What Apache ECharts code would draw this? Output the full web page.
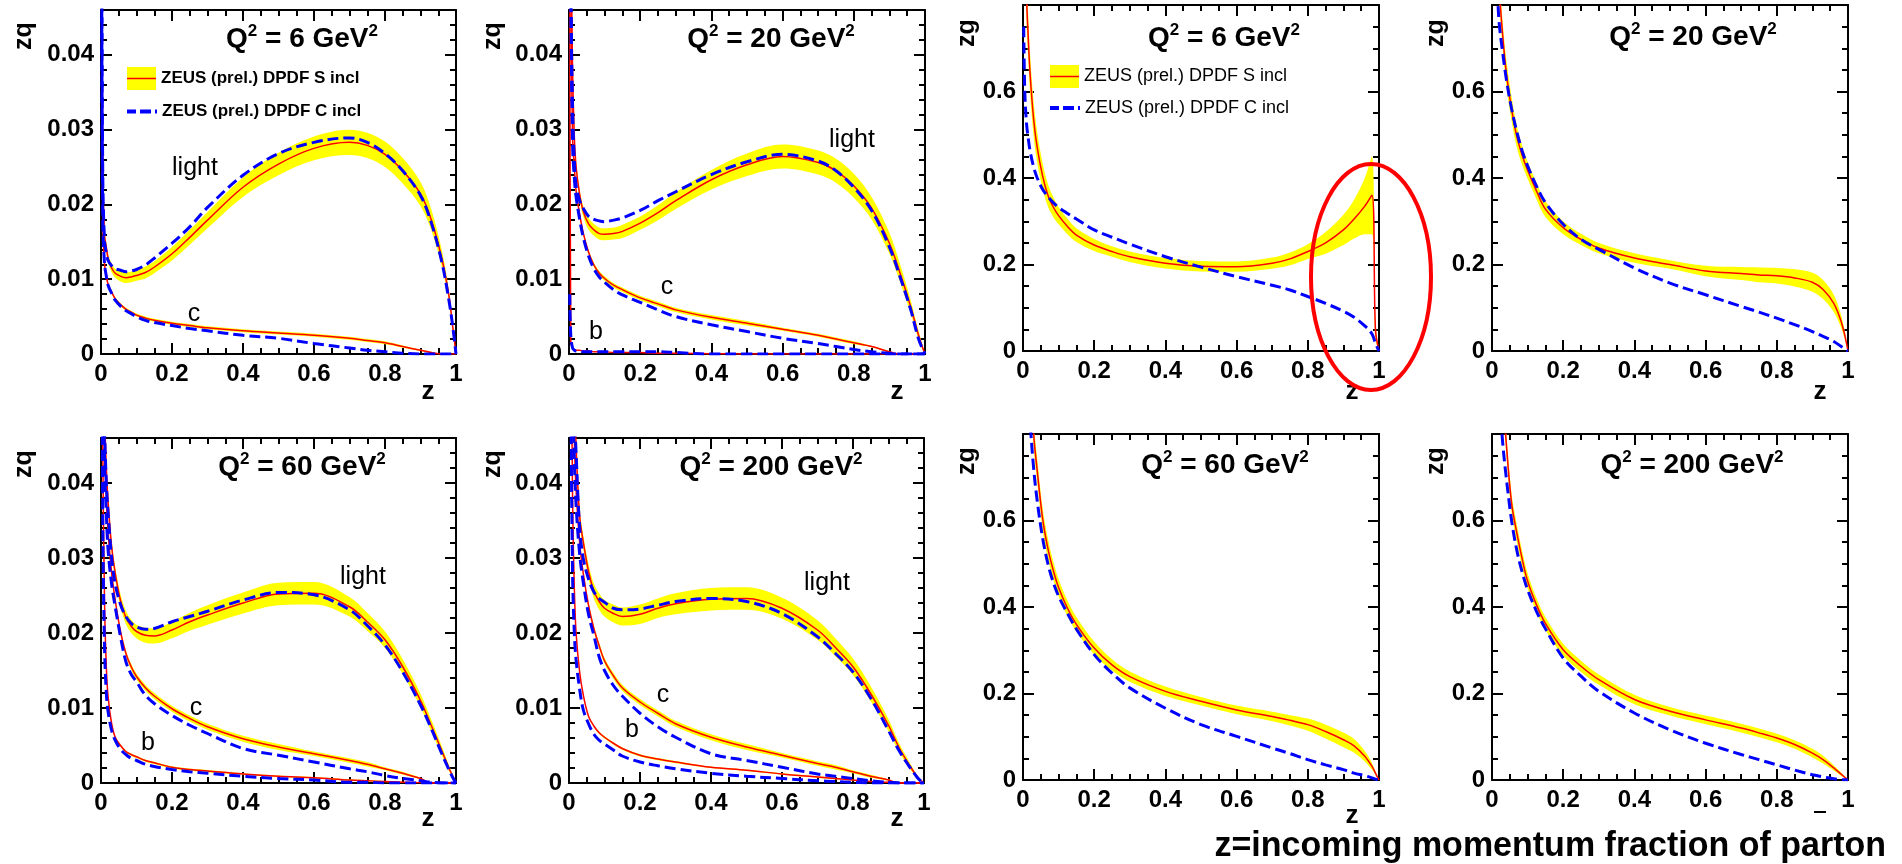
<!DOCTYPE html>
<html>
<head>
<meta charset="utf-8">
<title>ZEUS diffractive PDFs</title>
<script src="https://cdn.jsdelivr.net/npm/echarts@6.0.0/dist/echarts.min.js"></script>
<style>
html, body { margin: 0; padding: 0; background: #fff; }
#chart { width: 1902px; height: 864px; }
</style>
</head>
<body>
<div id="chart"></div>
<script>
var FONT = '"Liberation Sans", Arial, Helvetica, sans-serif';
var S_NAME = 'ZEUS (prel.) DPDF S incl';
var C_NAME = 'ZEUS (prel.) DPDF C incl';

// z values shared by every curve
var Z = [0.002, 0.005, 0.01, 0.015, 0.02, 0.03, 0.04, 0.055, 0.07, 0.085,
         0.1, 0.125, 0.15, 0.2, 0.25, 0.3, 0.4, 0.5, 0.6, 0.7,
         0.75, 0.8, 0.85, 0.9, 0.93, 0.96, 0.98, 0.99, 1];

// zq, Q2 = 6 GeV2
var q6LightS = [0.06, 0.025, 0.0158, 0.0143, 0.0128, 0.0115, 0.0108, 0.0104, 0.0102, 0.0103,
  0.0105, 0.0109, 0.0116, 0.0134, 0.0156, 0.0179, 0.0223, 0.0254, 0.0275, 0.0283,
  0.0279, 0.0267, 0.0245, 0.0214, 0.018, 0.0128, 0.0078, 0.004, 0];
var q6LightC = [0.06, 0.024, 0.015, 0.0135, 0.0125, 0.0118, 0.0114, 0.0112, 0.011, 0.0111,
  0.0113, 0.0119, 0.0128, 0.0148, 0.017, 0.0196, 0.0239, 0.0268, 0.0283, 0.0289,
  0.0283, 0.0268, 0.0245, 0.0212, 0.0176, 0.0123, 0.0072, 0.004, 0];
var q6LightErr = [0.0006, 0.0006, 0.0006, 0.0006, 0.0006, 0.0006, 0.0006, 0.0007, 0.0007, 0.0007,
  0.0007, 0.0008, 0.0008, 0.0009, 0.001, 0.0011, 0.0013, 0.0015, 0.0016, 0.0017,
  0.0017, 0.0017, 0.0017, 0.0016, 0.0014, 0.0011, 0.0007, 0.0004, 0];
var q6CharmS = [0.05, 0.018, 0.012, 0.0105, 0.0093, 0.0083, 0.0074, 0.0066, 0.006, 0.0056,
  0.0052, 0.0048, 0.0045, 0.0041, 0.0038, 0.0035, 0.0031, 0.0028, 0.0025, 0.0021,
  0.0018, 0.0015, 0.001, 0.0005, 0.0002, 0, 0, 0, 0];
var q6CharmC = [0.05, 0.018, 0.012, 0.0104, 0.0092, 0.0081, 0.0072, 0.0064, 0.0058, 0.0054,
  0.005, 0.0045, 0.0042, 0.0038, 0.0034, 0.0031, 0.0025, 0.0021, 0.0014, 0.0008,
  0.0005, 0.0003, 0.0001, 0, 0, 0, 0, 0, 0];
var q6CharmErr = [0.0002, 0.0002, 0.0002, 0.0002, 0.0002, 0.0002, 0.0002, 0.0002, 0.0002, 0.0002,
  0.0002, 0.0002, 0.0002, 0.0002, 0.0002, 0.0002, 0.0002, 0.0002, 0.0002, 0.0002,
  0.0002, 0.0002, 0.00015, 0.0001, 0.0001, 0, 0, 0, 0];

// zq, Q2 = 20 GeV2
var q20LightS = [0.09, 0.06, 0.038, 0.029, 0.025, 0.0213, 0.0191, 0.0174, 0.0166, 0.0161,
  0.016, 0.0161, 0.0164, 0.0175, 0.0189, 0.0205, 0.0233, 0.0253, 0.0264, 0.0256,
  0.0245, 0.0225, 0.0195, 0.0148, 0.0108, 0.0063, 0.0028, 0.0013, 0];
var q20LightC = [0.09, 0.05, 0.033, 0.026, 0.0225, 0.0205, 0.0195, 0.0184, 0.018, 0.0178,
  0.0177, 0.0179, 0.0182, 0.0192, 0.0205, 0.0217, 0.024, 0.0257, 0.0267, 0.0258,
  0.0245, 0.0223, 0.0192, 0.0143, 0.0103, 0.0059, 0.0023, 0.001, 0];
var q20LightErr = [0.0007, 0.0007, 0.0007, 0.0007, 0.0007, 0.0007, 0.0007, 0.0008, 0.0008, 0.0008,
  0.0008, 0.0008, 0.0009, 0.0009, 0.001, 0.0011, 0.0013, 0.0015, 0.0016, 0.0016,
  0.0016, 0.0016, 0.0015, 0.0014, 0.0012, 0.0009, 0.0006, 0.0004, 0];
var q20CharmS = [0.09, 0.05, 0.029, 0.025, 0.0218, 0.0187, 0.0162, 0.0136, 0.0119, 0.0108,
  0.0101, 0.0092, 0.0086, 0.0075, 0.0067, 0.0059, 0.0049, 0.0041, 0.0033, 0.0025,
  0.002, 0.0015, 0.001, 0.0003, 0, 0, 0, 0, 0];
var q20CharmC = [0.09, 0.05, 0.028, 0.0235, 0.021, 0.018, 0.0156, 0.0131, 0.0114, 0.0103,
  0.0096, 0.0086, 0.0079, 0.0069, 0.0059, 0.005, 0.0039, 0.003, 0.0021, 0.0014,
  0.001, 0.0006, 0.0003, 0.0001, 0, 0, 0, 0, 0];
var q20CharmErr = [0.0003, 0.0003, 0.0003, 0.0003, 0.0003, 0.0003, 0.0003, 0.0003, 0.0003, 0.0003,
  0.0003, 0.0003, 0.0003, 0.0003, 0.0003, 0.0003, 0.0003, 0.0003, 0.0002, 0.0002,
  0.0002, 0.0002, 0.0001, 0.0001, 0, 0, 0, 0, 0];
var q20BottomS = [0.06, 0.0015, 0.0008, 0.0006, 0.0005, 0.0005, 0.0004, 0.0004, 0.0003, 0.0003,
  0.0003, 0.0002, 0.0002, 0.0002, 0.0001, 0.0001, 0.00005, 0, 0, 0,
  0, 0, 0, 0, 0, 0, 0, 0, 0];
var q20BottomC = [0.008, 0.0025, 0.0008, 0.0005, 0.0004, 0.0004, 0.0003, 0.0003, 0.0003, 0.0003,
  0.0003, 0.0003, 0.0003, 0.0003, 0.0003, 0.0002, 0, 0, 0, 0,
  0, 0, 0, 0, 0, 0, 0, 0, 0];

// zq, Q2 = 60 GeV2
var q60LightS = [0.12, 0.08, 0.05, 0.042, 0.0375, 0.0315, 0.028, 0.0243, 0.0221, 0.0209,
  0.0202, 0.0197, 0.0196, 0.0204, 0.0215, 0.0224, 0.024, 0.0252, 0.0253, 0.0235,
  0.0215, 0.0191, 0.0155, 0.011, 0.0077, 0.0043, 0.002, 0.001, 0];
var q60LightC = [0.12, 0.08, 0.048, 0.04, 0.036, 0.03, 0.0265, 0.0238, 0.0222, 0.0213,
  0.0208, 0.0205, 0.0206, 0.0215, 0.0222, 0.0229, 0.0244, 0.0254, 0.0251, 0.0231,
  0.021, 0.0184, 0.0148, 0.0104, 0.0073, 0.0039, 0.0018, 0.0008, 0];
var q60LightErr = [0.0008, 0.0008, 0.0008, 0.0008, 0.0008, 0.0008, 0.0008, 0.0009, 0.0009, 0.0009,
  0.0009, 0.001, 0.001, 0.0011, 0.0012, 0.0013, 0.0014, 0.0015, 0.0015, 0.0013,
  0.0012, 0.0011, 0.001, 0.0009, 0.0008, 0.0006, 0.0004, 0.0002, 0];
var q60CharmS = [0.1, 0.07, 0.045, 0.038, 0.0335, 0.028, 0.0244, 0.0202, 0.0173, 0.0155,
  0.0142, 0.0127, 0.0116, 0.0099, 0.0086, 0.0075, 0.0059, 0.0048, 0.0039, 0.003,
  0.0025, 0.0019, 0.0013, 0.0006, 0, 0, 0, 0, 0];
var q60CharmC = [0.1, 0.065, 0.043, 0.036, 0.031, 0.0265, 0.0235, 0.0195, 0.0162, 0.0145,
  0.0135, 0.0117, 0.0106, 0.009, 0.0077, 0.0066, 0.0046, 0.0037, 0.0028, 0.0019,
  0.0015, 0.001, 0.0006, 0.0003, 0.0001, 0, 0, 0, 0];
var q60CharmErr = [0.0004, 0.0004, 0.0004, 0.0004, 0.0004, 0.0004, 0.0004, 0.0004, 0.0004, 0.0004,
  0.0004, 0.0004, 0.0004, 0.0004, 0.0004, 0.0004, 0.0004, 0.0004, 0.0003, 0.0003,
  0.0003, 0.0002, 0.0002, 0.0001, 0, 0, 0, 0, 0];
var q60BottomS = [0.08, 0.045, 0.024, 0.0155, 0.0115, 0.0079, 0.0061, 0.005, 0.0042, 0.0038,
  0.0035, 0.003, 0.0027, 0.0021, 0.0018, 0.0016, 0.0012, 0.0009, 0.0007, 0.0004,
  0.0003, 0.0002, 0.0001, 0.00005, 0, 0, 0, 0, 0];
var q60BottomC = [0.07, 0.035, 0.018, 0.012, 0.0095, 0.007, 0.0057, 0.0045, 0.0038, 0.0033,
  0.003, 0.0025, 0.0022, 0.0018, 0.0015, 0.0013, 0.0009, 0.0006, 0.0004, 0.0001,
  0.0001, 0, 0, 0, 0, 0, 0, 0, 0];
var q60BottomErr = [0.00015, 0.00015, 0.00015, 0.00015, 0.00015, 0.00015, 0.00015, 0.00015, 0.00015, 0.00015,
  0.00015, 0.00015, 0.00015, 0.00015, 0.00015, 0.00015, 0.0001, 0.0001, 0.0001, 0.0001,
  0.0001, 0.00005, 0.00005, 0, 0, 0, 0, 0, 0];

// zq, Q2 = 200 GeV2
var q200LightS = [0.15, 0.1, 0.07, 0.055, 0.045, 0.0356, 0.0322, 0.0282, 0.0256, 0.0242,
  0.0233, 0.0226, 0.0222, 0.0225, 0.0233, 0.0239, 0.0245, 0.0246, 0.0233, 0.0204,
  0.0181, 0.0155, 0.0119, 0.0077, 0.0047, 0.0023, 0.0009, 0.0004, 0];
var q200LightC = [0.15, 0.1, 0.065, 0.05, 0.044, 0.034, 0.03, 0.0272, 0.0255, 0.0246,
  0.0241, 0.0233, 0.0231, 0.0232, 0.0237, 0.0242, 0.0246, 0.0242, 0.0226, 0.0195,
  0.0173, 0.0148, 0.0113, 0.007, 0.0043, 0.0021, 0.0008, 0.0003, 0];
var q200LightErr = [0.0009, 0.0009, 0.0009, 0.0009, 0.0009, 0.0009, 0.0009, 0.001, 0.001, 0.0011,
  0.0011, 0.0012, 0.0012, 0.0013, 0.0013, 0.0014, 0.0015, 0.0015, 0.0014, 0.0013,
  0.0012, 0.0011, 0.001, 0.0008, 0.0006, 0.0004, 0.0002, 0.0001, 0];
var q200CharmS = [0.13, 0.09, 0.06, 0.046, 0.039, 0.032, 0.028, 0.0237, 0.0206, 0.0183,
  0.0163, 0.0143, 0.0127, 0.0108, 0.0093, 0.0079, 0.0061, 0.0048, 0.0037, 0.0026,
  0.0021, 0.0015, 0.0009, 0.0004, 0, 0, 0, 0, 0];
var q200CharmC = [0.13, 0.09, 0.055, 0.043, 0.037, 0.0305, 0.0268, 0.0225, 0.0197, 0.0168,
  0.015, 0.013, 0.0116, 0.0093, 0.0075, 0.0061, 0.0039, 0.003, 0.0021, 0.0012,
  0.0009, 0.0006, 0.0003, 0.0001, 0, 0, 0, 0, 0];
var q200CharmErr = [0.0004, 0.0004, 0.0004, 0.0004, 0.0004, 0.0004, 0.0004, 0.0004, 0.0004, 0.0004,
  0.0004, 0.0004, 0.0004, 0.0004, 0.0004, 0.0004, 0.0004, 0.0004, 0.0003, 0.0003,
  0.0003, 0.0002, 0.0002, 0.0001, 0, 0, 0, 0, 0];
var q200BottomS = [0.12, 0.07, 0.038, 0.026, 0.02, 0.0148, 0.0118, 0.0089, 0.0076, 0.0067,
  0.0061, 0.0053, 0.0046, 0.0037, 0.0032, 0.0028, 0.0021, 0.0017, 0.0012, 0.0008,
  0.0006, 0.0004, 0.0002, 0.0001, 0, 0, 0, 0, 0];
var q200BottomC = [0.1, 0.055, 0.028, 0.02, 0.0164, 0.0125, 0.0098, 0.0079, 0.0065, 0.0057,
  0.0052, 0.0044, 0.0036, 0.0028, 0.0023, 0.0019, 0.0013, 0.0009, 0.0006, 0.0003,
  0.0002, 0.0001, 0, 0, 0, 0, 0, 0, 0];
var q200BottomErr = [0.00015, 0.00015, 0.00015, 0.00015, 0.00015, 0.00015, 0.00015, 0.00015, 0.00015, 0.00015,
  0.00015, 0.00015, 0.00015, 0.00015, 0.00015, 0.00015, 0.0001, 0.0001, 0.0001, 0.0001,
  0.0001, 0.00005, 0.00005, 0, 0, 0, 0, 0, 0];

// zg (gluon)
var g6S = [1.5, 1.1, 0.82, 0.72, 0.64, 0.535, 0.47, 0.405, 0.36, 0.333,
  0.313, 0.288, 0.268, 0.245, 0.23, 0.218, 0.203, 0.196, 0.195, 0.203,
  0.213, 0.23, 0.25, 0.28, 0.305, 0.335, 0.36, 0.05, 0];
var g6C = [0.75, 0.6, 0.525, 0.49, 0.462, 0.425, 0.4, 0.374, 0.357, 0.343,
  0.332, 0.318, 0.305, 0.28, 0.263, 0.247, 0.218, 0.194, 0.172, 0.152,
  0.141, 0.126, 0.11, 0.092, 0.078, 0.058, 0.04, 0.018, 0];
var g6Err = [0.06, 0.06, 0.06, 0.05, 0.045, 0.04, 0.035, 0.03, 0.026, 0.023,
  0.02, 0.018, 0.016, 0.014, 0.012, 0.012, 0.012, 0.012, 0.012, 0.013,
  0.015, 0.017, 0.025, 0.035, 0.045, 0.065, 0.09, 0.02, 0];
var g20S = [2, 1.5, 1.1, 0.92, 0.84, 0.73, 0.645, 0.56, 0.495, 0.452,
  0.418, 0.37, 0.328, 0.285, 0.258, 0.238, 0.215, 0.2, 0.185, 0.179,
  0.176, 0.174, 0.169, 0.159, 0.142, 0.11, 0.07, 0.04, 0];
var g20C = [1.5, 1.2, 0.95, 0.84, 0.76, 0.69, 0.63, 0.56, 0.506, 0.462,
  0.428, 0.381, 0.343, 0.293, 0.258, 0.235, 0.192, 0.157, 0.13, 0.103,
  0.09, 0.076, 0.061, 0.045, 0.034, 0.022, 0.011, 0.005, 0];
var g20Err = [0.03, 0.03, 0.03, 0.03, 0.03, 0.03, 0.03, 0.028, 0.025, 0.022,
  0.02, 0.019, 0.018, 0.015, 0.013, 0.012, 0.011, 0.01, 0.012, 0.015,
  0.017, 0.018, 0.02, 0.022, 0.022, 0.02, 0.015, 0.01, 0];
var g60S = [2.5, 2, 1.5, 1.2, 1.0, 0.8, 0.715, 0.605, 0.535, 0.485,
  0.445, 0.397, 0.36, 0.305, 0.266, 0.239, 0.205, 0.182, 0.162, 0.147,
  0.138, 0.128, 0.112, 0.093, 0.079, 0.055, 0.032, 0.016, 0];
var g60C = [2, 1.5, 1.1, 0.93, 0.83, 0.72, 0.645, 0.56, 0.5, 0.457,
  0.425, 0.385, 0.349, 0.29, 0.247, 0.213, 0.166, 0.128, 0.101, 0.074,
  0.061, 0.047, 0.035, 0.024, 0.016, 0.01, 0.005, 0.002, 0];
var g60Err = [0.03, 0.03, 0.03, 0.03, 0.03, 0.03, 0.028, 0.025, 0.023, 0.021,
  0.02, 0.018, 0.017, 0.015, 0.013, 0.012, 0.011, 0.01, 0.01, 0.011,
  0.012, 0.014, 0.016, 0.017, 0.016, 0.012, 0.008, 0.004, 0];
var g200S = [3, 2.2, 1.6, 1.3, 1.1, 0.9, 0.78, 0.64, 0.57, 0.51,
  0.46, 0.405, 0.362, 0.301, 0.263, 0.232, 0.186, 0.159, 0.139, 0.12,
  0.109, 0.097, 0.082, 0.062, 0.047, 0.028, 0.014, 0.007, 0];
var g200C = [2.5, 1.8, 1.3, 1.0, 0.9, 0.78, 0.7, 0.6, 0.53, 0.48,
  0.44, 0.39, 0.35, 0.282, 0.24, 0.205, 0.155, 0.116, 0.085, 0.059,
  0.047, 0.035, 0.023, 0.012, 0.007, 0.003, 0.001, 0.0005, 0];
var g200Err = [0.025, 0.025, 0.025, 0.025, 0.025, 0.025, 0.025, 0.022, 0.02, 0.019,
  0.018, 0.016, 0.015, 0.014, 0.013, 0.012, 0.011, 0.01, 0.01, 0.01,
  0.01, 0.01, 0.01, 0.01, 0.009, 0.006, 0.004, 0.002, 0];

var Q2_LABELS = ['6', '20', '6', '20', '60', '200', '60', '200'];
var Y_NAMES = ['zq', 'zq', 'zg', 'zg', 'zq', 'zq', 'zg', 'zg'];

var PANELS = [
  [{ s: q6LightS, c: q6LightC, err: q6LightErr }, { s: q6CharmS, c: q6CharmC, err: q6CharmErr }],
  [{ s: q20LightS, c: q20LightC, err: q20LightErr }, { s: q20CharmS, c: q20CharmC, err: q20CharmErr },
   { s: q20BottomS, c: q20BottomC, err: null }],
  [{ s: g6S, c: g6C, err: g6Err }],
  [{ s: g20S, c: g20C, err: g20Err }],
  [{ s: q60LightS, c: q60LightC, err: q60LightErr }, { s: q60CharmS, c: q60CharmC, err: q60CharmErr },
   { s: q60BottomS, c: q60BottomC, err: q60BottomErr }],
  [{ s: q200LightS, c: q200LightC, err: q200LightErr }, { s: q200CharmS, c: q200CharmC, err: q200CharmErr },
   { s: q200BottomS, c: q200BottomC, err: q200BottomErr }],
  [{ s: g60S, c: g60C, err: g60Err }],
  [{ s: g200S, c: g200C, err: g200Err }]
];

// layout (pixels)
var GRID_BOXES = [[101, 10, 355, 344], [569, 10, 356, 344], [1023, 5, 356, 346], [1492, 5, 356, 346],
                  [101, 438, 355, 345], [569, 438, 355, 345], [1023, 434, 356, 346], [1492, 434, 356, 346]];
var TITLE_POS = [[302, 39], [771, 39], [1224, 38], [1693, 37], [302, 467], [771, 467], [1225, 465], [1692, 465]];
var YNAME_POS = [[24, 36], [493, 36], [967, 33], [1436, 33], [24, 464], [493, 464], [967, 461], [1436, 461]];
var XNAME_POS = [[428, 392], [897, 392], [1352, 392], [1820, 392], [428, 819], [897, 819], [1352, 816]];
var FLAVOUR_LABELS = [['light', 195, 168], ['c', 194, 314], ['light', 852, 140], ['c', 667, 287], ['b', 596, 332],
                      ['light', 363, 577], ['c', 196, 708], ['b', 148, 743], ['light', 827, 583], ['c', 663, 695], ['b', 632, 730]];

var SMOOTH = 0.35;

function pairs(vals) {
  return Z.map(function (z, i) { return [z, vals[i]]; });
}
// value first, z second: the stack then runs along the y dimension
function pairsYX(vals) {
  return Z.map(function (z, i) { return [vals[i], z]; });
}

function bandSeries(p, key, centre, err) {
  var lower = centre.map(function (v, i) { return Math.max(0, v - err[i]); });
  var span = centre.map(function (v, i) { return v + err[i] - lower[i]; });
  var base = {
    type: 'line', name: 'band', xAxisIndex: p, yAxisIndex: p, stack: 'band' + key, stackStrategy: 'all',
    encode: { x: 1, y: 0 },
    symbol: 'none', smooth: SMOOTH, silent: true, z: 1,
    lineStyle: { width: 0, opacity: 0 }, emphasis: { disabled: true }
  };
  return [
    Object.assign({ data: pairsYX(lower) }, base),
    Object.assign({ data: pairsYX(span), areaStyle: { color: '#ffff00', opacity: 1 } }, base)
  ];
}

function curveSeries(p, name, vals, lineStyle, z) {
  return {
    type: 'line', name: name, xAxisIndex: p, yAxisIndex: p, data: pairs(vals),
    symbol: 'none', smooth: SMOOTH, silent: true, z: z,
    lineStyle: lineStyle, itemStyle: { color: lineStyle.color }, emphasis: { disabled: true }
  };
}

var series = [];
PANELS.forEach(function (curves, p) {
  curves.forEach(function (cv, k) {
    if (cv.err) series = series.concat(bandSeries(p, p + '_' + k, cv.s, cv.err));
  });
  curves.forEach(function (cv) {
    series.push(curveSeries(p, S_NAME, cv.s, { color: '#ff0000', width: 1.5 }, 3));
  });
  curves.forEach(function (cv) {
    series.push(curveSeries(p, C_NAME, cv.c, { color: '#0000ff', width: 3, type: [11, 5] }, 4));
  });
});

var grids = GRID_BOXES.map(function (b) {
  return { left: b[0], top: b[1], width: b[2], height: b[3], containLabel: false, outerBoundsMode: 'none' };
});

var tickLine = { color: '#000', width: 2 };
function axisCommon(p) {
  return {
    type: 'value', gridIndex: p,
    axisLine: { show: true, onZero: false, lineStyle: tickLine },
    axisTick: { show: true, inside: true, length: 11, lineStyle: tickLine },
    splitLine: { show: false }, minorSplitLine: { show: false }
  };
}
function labelStyle(show, margin) {
  return { show: show, margin: margin, fontSize: 24, fontWeight: 'bold', fontFamily: FONT, color: '#000' };
}

var xAxes = [], yAxes = [];
[false, true].forEach(function (mirror) {
  GRID_BOXES.forEach(function (b, p) {
    xAxes.push(Object.assign(axisCommon(p), {
      position: mirror ? 'top' : 'bottom', min: 0, max: 1, interval: 0.2,
      minorTick: { show: true, splitNumber: 4, length: 6, lineStyle: tickLine },
      axisLabel: labelStyle(!mirror, 8)
    }));
    var isQ = Y_NAMES[p] === 'zq';
    var yl = labelStyle(!mirror, 7);
    yl.showMaxLabel = false;
    yAxes.push(Object.assign(axisCommon(p), {
      position: mirror ? 'right' : 'left', min: 0, max: isQ ? 0.046 : 0.8, interval: isQ ? 0.01 : 0.2,
      minorTick: { show: true, splitNumber: isQ ? 5 : 4, length: 6, lineStyle: tickLine },
      axisLabel: yl
    }));
  });
});

var DASH_ICON = 'path://M0,0H9V4H0ZM13,0H24V4H13ZM28,0H30V4H28Z';
function legendPair(left, topS, topC, fontSize, weight) {
  var ts = { fontSize: fontSize, fontWeight: weight, fontFamily: FONT, color: '#000' };
  return [
    { left: left, top: topS, padding: 0, selectedMode: false, icon: 'rect', itemWidth: 29, itemHeight: 23,
      data: [{ name: S_NAME, itemStyle: { color: '#ffff00', borderWidth: 0, borderColor: '#ffff00' } }], textStyle: ts },
    { left: left, top: topC, padding: 0, selectedMode: false, itemWidth: 30, itemHeight: 4,
      data: [{ name: C_NAME, icon: DASH_ICON, itemStyle: { color: '#0000ff', borderWidth: 0, borderColor: '#0000ff' } }], textStyle: ts }
  ];
}
var legends = legendPair(127, 67, 103, 17, 'bold').concat(legendPair(1050, 65, 99, 18, 'normal'));

function txt(x, y, text, size, weight, extra) {
  var el = {
    type: 'text', x: x, y: y, z: 100, silent: true,
    style: { text: text, fontSize: size, fontWeight: weight, fontFamily: FONT, fill: '#000',
             align: 'center', verticalAlign: 'middle', textAlign: 'center', textVerticalAlign: 'middle' }
  };
  return Object.assign(el, extra || {});
}

var graphics = [];
TITLE_POS.forEach(function (pos, p) {
  graphics.push({
    type: 'text', x: pos[0], y: pos[1], z: 100, silent: true,
    style: {
      text: '{m|Q}{s|2}{m| = ' + Q2_LABELS[p] + ' GeV}{s|2}',
      align: 'center', verticalAlign: 'middle', textAlign: 'center', textVerticalAlign: 'middle',
      rich: {
        m: { fontSize: 28, fontWeight: 'bold', fontFamily: FONT, fill: '#000', lineHeight: 32 },
        s: { fontSize: 17, fontWeight: 'bold', fontFamily: FONT, fill: '#000', lineHeight: 17, verticalAlign: 'top' }
      }
    }
  });
});
YNAME_POS.forEach(function (pos, p) {
  graphics.push(txt(pos[0], pos[1], Y_NAMES[p], 25, 'bold', { rotation: Math.PI / 2 }));
});
XNAME_POS.forEach(function (pos) {
  graphics.push(txt(pos[0], pos[1], 'z', 26, 'bold'));
});
graphics.push({ type: 'line', z: 100, silent: true, shape: { x1: 1814, y1: 812, x2: 1826, y2: 812 }, style: { stroke: '#000', lineWidth: 2 } });
FLAVOUR_LABELS.forEach(function (f) {
  graphics.push(txt(f[1], f[2], f[0], 25, 'normal'));
});
// red line through the yellow legend boxes
graphics.push({ type: 'line', z: 100, silent: true, shape: { x1: 127, y1: 78.5, x2: 156, y2: 78.5 }, style: { stroke: '#ff0000', lineWidth: 1.5 } });
graphics.push({ type: 'line', z: 100, silent: true, shape: { x1: 1050, y1: 76.5, x2: 1079, y2: 76.5 }, style: { stroke: '#ff0000', lineWidth: 1.5 } });
// highlight ellipse on the Q2 = 6 gluon panel
graphics.push({ type: 'ellipse', z: 100, silent: true, shape: { cx: 1371, cy: 277, rx: 60, ry: 113 }, style: { fill: 'none', stroke: '#ff0000', lineWidth: 4 } });
graphics.push({
  type: 'text', x: 1886, y: 846, z: 100, silent: true, scaleY: 1.05,
  style: { text: 'z=incoming momentum fraction of parton', fontSize: 34, fontWeight: 'bold', fontFamily: FONT, fill: '#000',
           align: 'right', verticalAlign: 'middle', textAlign: 'right', textVerticalAlign: 'middle' }
});

var chart = echarts.init(document.getElementById('chart'));
chart.setOption({
  animation: false,
  backgroundColor: '#fff',
  grid: grids,
  xAxis: xAxes,
  yAxis: yAxes,
  legend: legends,
  series: series,
  graphic: graphics
});
</script>
</body>
</html>
